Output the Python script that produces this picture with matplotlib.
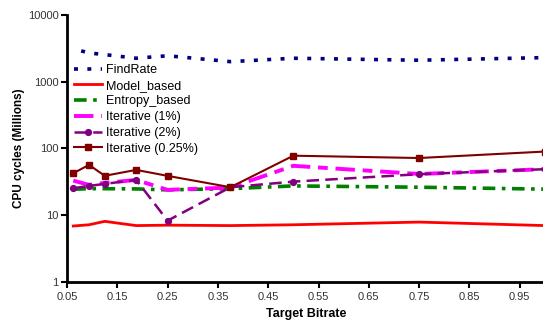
import matplotlib

matplotlib.use("Agg")
import matplotlib.pyplot as plt
from matplotlib.ticker import FixedLocator, FixedFormatter

plt.rcParams["font.family"] = ["Liberation Sans", "DejaVu Sans"]

# Target bitrate sample points
bitrate = [0.0625, 0.09375, 0.125, 0.1875, 0.25, 0.375, 0.5, 0.75, 1.0]
bitrate_findrate = [0.078125, 0.09375, 0.125, 0.1875, 0.25, 0.375, 0.5, 0.75, 1.0]

# CPU cycles (millions)
findrate = [2900, 2700, 2550, 2250, 2450, 2000, 2250, 2100, 2300]
model_based = [6.9, 7.2, 8.1, 7.0, 7.1, 7.0, 7.2, 7.9, 7.0]
entropy_based = [24.5, 25.0, 25.0, 24.8, 24.0, 25.0, 27.5, 26.3, 24.6]
iter_1 = [33.0, 28.5, 30.5, 33.8, 24.0, 26.0, 55.0, 41.5, 49.0]
iter_2 = [25.4, 27.5, 29.5, 33.9, 8.3, 26.3, 31.9, 41.2, 49.0]
iter_025 = [42.6, 56.8, 39.0, 47.8, 38.9, 26.3, 78.0, 72.0, 90.0]

xticks = [0.05, 0.15, 0.25, 0.35, 0.45, 0.55, 0.65, 0.75, 0.85, 0.95]
yticks = [1, 10, 100, 1000, 10000]

fig = plt.figure(figsize=(5.43, 3.21), dpi=100)
ax = fig.add_axes([0.1234, 0.1215, 0.880, 0.8318])

ax.plot(bitrate_findrate, findrate, color="#000080", lw=2.6,
        dashes=(1.1, 2.6), label="FindRate")
ax.plot(bitrate, model_based, color="#FF0000", lw=2.0, label="Model_based")
ax.plot(bitrate, entropy_based, color="#008000", lw=2.6,
        dashes=(3.5, 1.8, 1, 1.8), label="Entropy_based")
ax.plot(bitrate, iter_1, color="#FF00FF", lw=2.8,
        dashes=(5, 2, 2.5, 2), label="Iterative (1%)")
ax.plot(bitrate, iter_2, color="#800080", lw=1.8, dashes=(5, 2.5),
        marker="o", ms=4.2, label="Iterative (2%)")
ax.plot(bitrate, iter_025, color="#800000", lw=1.5,
        marker="s", ms=4.2, label="Iterative (0.25%)")

ax.set_yscale("log")
ax.set_ylim(1, 10000)
ax.set_xlim(0.05, 1.0)
ax.yaxis.set_major_locator(FixedLocator(yticks))
ax.yaxis.set_major_formatter(FixedFormatter([str(v) for v in yticks]))
ax.yaxis.set_minor_locator(FixedLocator([]))
ax.set_xticks(xticks)
ax.set_xticklabels([f"{v:.2f}" for v in xticks])

for side in ("top", "right"):
    ax.spines[side].set_visible(False)
for side in ("left", "bottom"):
    ax.spines[side].set_linewidth(2)
ax.tick_params(axis="both", direction="out", length=4, width=1.5,
               labelsize=8, labelcolor="#333333")
ax.tick_params(axis="y", pad=2)

ax.set_xlabel("Target Bitrate", fontsize=9, fontweight="bold", labelpad=4)
ax.set_ylabel("CPU cycles (Millions)", fontsize=8.5, fontweight="bold",
              labelpad=2)

ax.legend(loc="upper left", bbox_to_anchor=(-0.002, 0.845), frameon=False,
          fontsize=9, handlelength=2.3, handletextpad=0.3, labelspacing=0.3,
          borderaxespad=0.2)

fig.savefig("out.png", dpi=100)
plt.close(fig)
